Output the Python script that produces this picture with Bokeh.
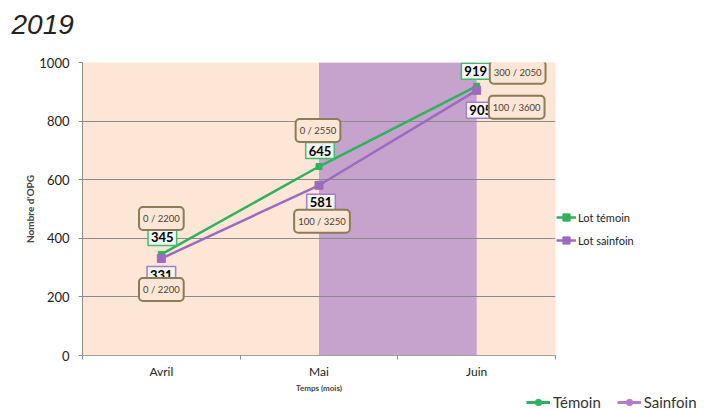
from bokeh.plotting import figure
from bokeh.layouts import column
from bokeh.models import Range1d, FixedTicker, Label, BoxAnnotation, Legend, LegendItem
from bokeh.embed import file_html
from bokeh.resources import INLINE

# ---- data ----
title_text = "2019"
months = ["Avril", "Mai", "Juin"]
temoin = [345, 645, 919]
sainfoin = [331, 581, 905]
temoin_ratio = ["0 / 2200", "0 / 2550", "300 / 2050"]
sainfoin_ratio = ["0 / 2200", "100 / 3250", "100 / 3600"]
y_ticks = [0, 200, 400, 600, 800, 1000]
band_from, band_to = "Mai", "Juin"

# ---- styles ----
GREEN = "#2FB25D"
PURPLE = "#9D6BBD"
PEACH = "#FDE6D5"
BAND = "#C5A3CC"
FONT = "Lato"
W = 716

# ---- header (title) ----
head = figure(width=W, height=40, x_range=Range1d(0, W), y_range=Range1d(0, 40),
              output_backend="svg", toolbar_location=None,
              x_axis_location=None, y_axis_location=None, frame_align=False,
              min_border=0, min_border_left=0, min_border_right=0,
              min_border_top=0, min_border_bottom=0)
head.outline_line_color = None
head.grid.visible = False
head.background_fill_color = "white"
head.add_layout(Label(x=11, y=16, text=title_text, text_font="Liberation Sans",
                      text_font_style="italic", text_font_size="28px",
                      text_color="#222222", text_baseline="middle"))

# ---- main chart ----
xs = [i + 0.5 for i in range(len(months))]

p = figure(width=W, height=354, frame_width=473, frame_height=293,
           x_range=Range1d(0, len(months)), y_range=Range1d(0, 1000),
           output_backend="svg", toolbar_location=None, frame_align=False,
           min_border_left=82, min_border_right=161, min_border_top=22, min_border_bottom=39)
p.background_fill_color = PEACH
p.border_fill_color = "white"
p.outline_line_color = None

band = BoxAnnotation(left=xs[months.index(band_from)], right=xs[months.index(band_to)],
                     fill_color=BAND, fill_alpha=1, line_color=None, level="image")
p.add_layout(band)

p.xgrid.visible = False
p.ygrid.grid_line_color = "#8A8A8A"
p.ygrid.grid_line_width = 1

p.yaxis.ticker = FixedTicker(ticks=y_ticks)
p.yaxis.axis_label = "Nombre d'OPG"
p.yaxis.axis_label_text_font = FONT
p.yaxis.axis_label_text_font_style = "bold"
p.yaxis.axis_label_text_font_size = "10px"
p.yaxis.axis_label_standoff = 0
p.yaxis.major_label_text_font = FONT
p.yaxis.major_label_text_font_size = "13px"
p.yaxis.major_label_text_color = "#222222"
p.yaxis.major_label_standoff = 9
p.yaxis.major_tick_out = 4
p.yaxis.major_tick_in = 0
p.yaxis.minor_tick_line_color = None
p.yaxis.axis_line_color = "#8C8C8C"
p.yaxis.major_tick_line_color = "#8C8C8C"

p.xaxis.ticker = FixedTicker(ticks=xs, minor_ticks=list(range(len(months) + 1)))
p.xaxis.major_label_overrides = {x: m for x, m in zip(xs, months)}
p.xaxis.axis_label = "Temps (mois)"
p.xaxis.axis_label_text_font = FONT
p.xaxis.axis_label_text_font_style = "bold"
p.xaxis.axis_label_text_font_size = "8px"
p.xaxis.axis_label_standoff = 1
p.xaxis.major_label_text_font = FONT
p.xaxis.major_label_text_font_size = "12px"
p.xaxis.major_label_text_color = "#222222"
p.xaxis.major_label_standoff = 4
p.xaxis.major_tick_line_color = None
p.xaxis.major_tick_out = 0
p.xaxis.minor_tick_out = 4
p.xaxis.minor_tick_in = 0
p.xaxis.minor_tick_line_color = "#8C8C8C"
p.xaxis.axis_line_color = "#A0A0A0"

l1 = p.line(xs, temoin, line_color=GREEN, line_width=2.5)
s1 = p.scatter(xs, temoin, marker="square", size=6, fill_color=GREEN, line_color=GREEN)
l2 = p.line(xs, sainfoin, line_color=PURPLE, line_width=2.5)
s2 = p.scatter(xs, sainfoin, marker="square", size=8, fill_color=PURPLE, line_color=PURPLE)

t_val_off = [(1, 17), (1, 16), (-1, 15)]
s_val_off = [(0, -16), (2, -17), (4, -20)]
t_rat_off = [(0, 36), (-1, 36), (41, 14)]
s_rat_off = [(0, -31), (3, -36), (40, -17)]

def val_label(x, y, txt, off, col):
    return Label(x=x, y=y, text=txt, x_offset=off[0], y_offset=off[1],
                 text_align="center", text_baseline="middle",
                 text_font=FONT, text_font_size="13px", text_font_style="bold",
                 text_color="black", background_fill_color="#F4F4F4",
                 border_line_color=col, border_line_width=1.5, padding=3)

def rat_label(x, y, txt, off):
    return Label(x=x, y=y, text=txt, x_offset=off[0], y_offset=off[1],
                 text_align="center", text_baseline="middle",
                 text_font=FONT, text_font_size="9.5px",
                 text_color="#4D4033", background_fill_color=PEACH,
                 border_line_color="#8B7B57", border_line_width=2,
                 border_radius=4, padding=(4, 6))

for i in range(len(months)):
    p.add_layout(val_label(xs[i], temoin[i], str(temoin[i]), t_val_off[i], "#3DBF6A"))
    p.add_layout(val_label(xs[i], sainfoin[i], str(sainfoin[i]), s_val_off[i], "#A77DC6"))
for i in range(len(months)):
    p.add_layout(rat_label(xs[i], temoin[i], temoin_ratio[i], t_rat_off[i]))
    p.add_layout(rat_label(xs[i], sainfoin[i], sainfoin_ratio[i], s_rat_off[i]))

leg1 = Legend(items=[LegendItem(label="Lot témoin", renderers=[l1, s1]),
                     LegendItem(label="Lot sainfoin", renderers=[l2, s2])],
              location=(1, 106), orientation="vertical",
              background_fill_alpha=0, border_line_color=None, padding=0, margin=0,
              glyph_width=20, glyph_height=18, label_height=18, spacing=5,
              label_standoff=2, label_text_font=FONT, label_text_font_size="11px",
              label_text_color="#222222")
p.add_layout(leg1, "right")

# ---- bottom legend strip (series re-plotted out of this strip's view, legend only) ----
foot = figure(width=W, height=16, x_range=Range1d(0, W), y_range=Range1d(0, 16),
              output_backend="svg", toolbar_location=None,
              x_axis_location=None, y_axis_location=None, frame_align=False,
              min_border=0, min_border_left=0, min_border_right=0,
              min_border_top=0, min_border_bottom=0)
foot.outline_line_color = None
foot.grid.visible = False
foot.background_fill_color = "white"
e1 = foot.line(xs, temoin, line_color="#2DB360", line_width=3)
e1c = foot.scatter(xs, temoin, marker="circle", size=6, fill_color="#2DB360", line_color="#2DB360")
e2 = foot.line(xs, sainfoin, line_color="#B47FC7", line_width=3)
e2c = foot.scatter(xs, sainfoin, marker="circle", size=6, fill_color="#B47FC7", line_color="#B47FC7")
leg2 = Legend(items=[LegendItem(label="Témoin", renderers=[e1, e1c]),
                     LegendItem(label="Sainfoin", renderers=[e2, e2c])],
              location=(526, 0), orientation="horizontal",
              background_fill_alpha=0, border_line_color=None, padding=0, margin=0,
              glyph_width=24, glyph_height=16, label_height=16, spacing=16,
              label_standoff=3, label_text_font=FONT, label_text_font_size="15px",
              label_text_color="#333333")
foot.add_layout(leg2)

layout = column(head, p, foot, spacing=0)
open("out.html", "w").write(file_html(layout, INLINE))
